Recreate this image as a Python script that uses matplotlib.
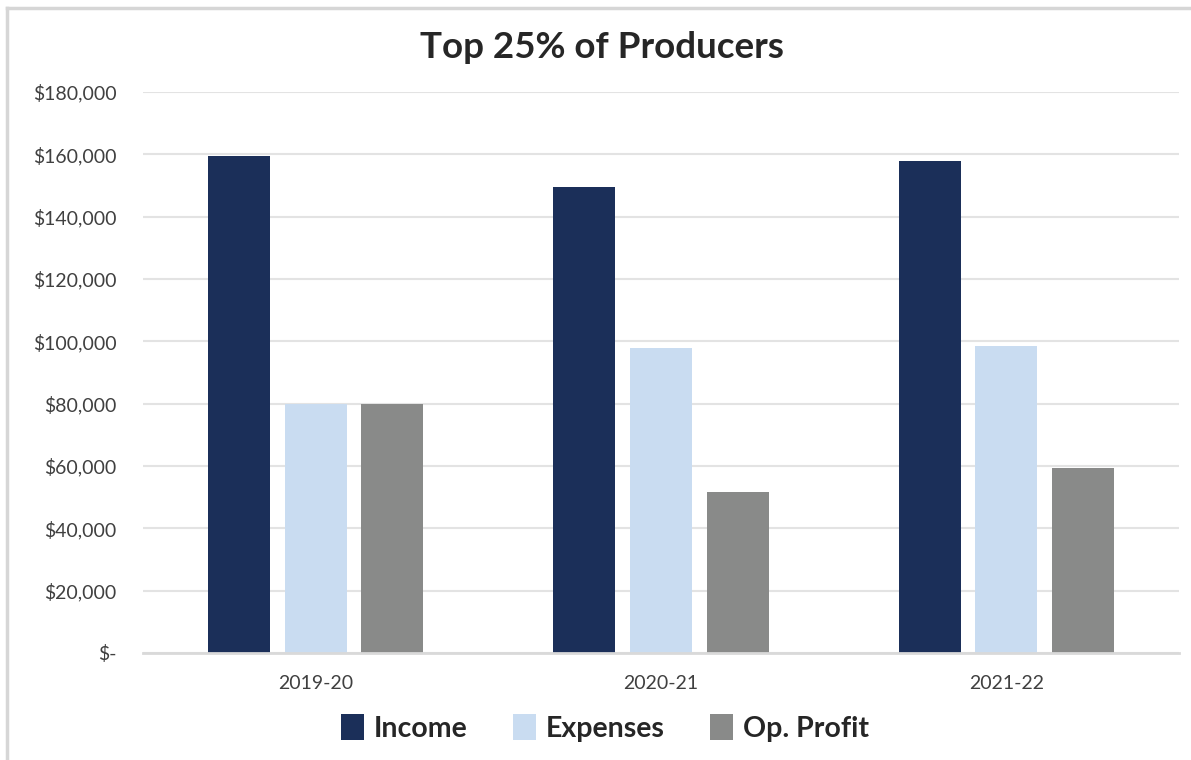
import matplotlib
matplotlib.use("Agg")
import matplotlib.pyplot as plt
from matplotlib.lines import Line2D
from matplotlib.ticker import FuncFormatter
import numpy as np

categories = ["2019-20", "2020-21", "2021-22"]
series_names = ["Income", "Expenses", "Op. Profit"]
income = [159500, 149500, 158000]
expenses = [80000, 98000, 98500]
op_profit = [80000, 51500, 59500]
yticks = [0, 20000, 40000, 60000, 80000, 100000, 120000, 140000, 160000, 180000]

colors = ["#1b2f59", "#c9dcf1", "#898a89"]
plt.rcParams['font.family'] = ['Lato', 'DejaVu Sans']

fig = plt.figure(figsize=(11.91, 7.60), dpi=100)
ax = fig.add_axes([0.120, 0.1408, 0.870, 0.7382])

x = np.arange(len(categories))
width = 0.18
step = 0.222
for i, (vals, name) in enumerate(zip([income, expenses, op_profit], series_names)):
    ax.bar(x + (i - 1) * step, vals, width=width, color=colors[i], label=name, zorder=3)

ax.set_xlim(-0.5, 2.5)
ax.set_ylim(0, 180000)
ax.set_yticks(yticks)
ax.yaxis.set_major_formatter(FuncFormatter(lambda v, p: "$-" if v == 0 else f"${v:,.0f}"))
ax.set_xticks(x)
ax.set_xticklabels(categories)
ax.tick_params(axis='y', length=0, pad=19, labelsize=14, labelcolor="#404040")
ax.tick_params(axis='x', length=0, pad=16, labelsize=14, labelcolor="#404040")
ax.grid(axis='y', color="#e3e3e3", linewidth=1.5, zorder=0)
for s in ["top", "right", "left"]:
    ax.spines[s].set_visible(False)
ax.spines["bottom"].set_color("#d9d9d9")
ax.spines["bottom"].set_linewidth(2)
ax.spines["bottom"].set_zorder(4)

fig.text(0.505, 0.938, "Top 25% of Producers", ha="center", va="center",
         fontsize=26.5, fontweight="bold", color="#262626")

leg = fig.legend(loc="center", bbox_to_anchor=(0.508, 0.042), ncol=3, frameon=False,
                 prop={'size': 20.5, 'weight': 'bold'}, handlelength=0.8, handleheight=1.0,
                 handletextpad=0.35, columnspacing=1.6)
for t in leg.get_texts():
    t.set_color("#262626")

# outer frame lines (left and top)
fig.add_artist(Line2D([6.5/1191, 6.5/1191], [0, 1 - 7.5/760], transform=fig.transFigure,
                      color="#d6d6d6", linewidth=2.5))
fig.add_artist(Line2D([6.5/1191, 1], [1 - 7.5/760, 1 - 7.5/760], transform=fig.transFigure,
                      color="#d6d6d6", linewidth=2.5))

fig.savefig("out.png", dpi=100)
